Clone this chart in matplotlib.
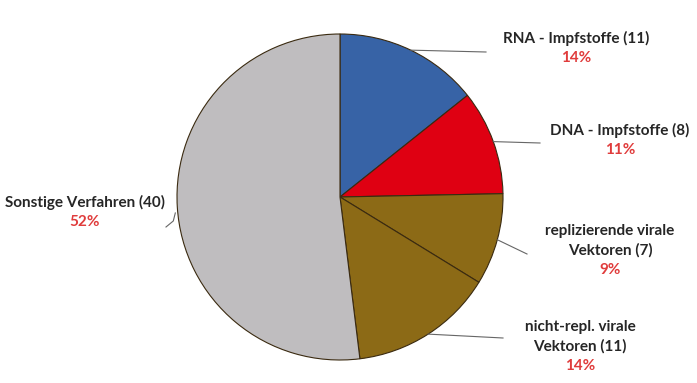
import numpy as np
import matplotlib
matplotlib.use("Agg")
import matplotlib.pyplot as plt

categories = ["RNA - Impfstoffe (11)", "DNA - Impfstoffe (8)",
              "replizierende virale\nVektoren (7)", "nicht-repl. virale\nVektoren (11)",
              "Sonstige Verfahren (40)"]
values = [11, 8, 7, 11, 40]
pct_labels = ["14%", "11%", "9%", "14%", "52%"]
colors = ["#3763a6", "#df0012", "#8c6a16", "#8c6a16", "#bfbdbf"]

W, H = 697, 383
fig = plt.figure(figsize=(W / 100, H / 100), dpi=100)
ax = fig.add_axes([0, 0, 1, 1])
ax.set_xlim(0, W)
ax.set_ylim(0, H)
ax.set_aspect("equal")
ax.axis("off")

cx, cy, r = 340, H - 197, 163
wedges, _ = ax.pie(values, colors=colors, startangle=90, counterclock=False,
                   center=(cx, cy), radius=r, frame=True,
                   wedgeprops=dict(edgecolor="#3a2a10", linewidth=0.8))
ax.set_xlim(0, W)
ax.set_ylim(0, H)
ax.axis("off")

# label layout: (text center x, first line y (px from top), line end x, line end y)
layout = [
    (576, 38, 486, 52),
    (620, 130, 540, 143),
    (610, 231, 527, 254),
    (580, 327, 503, 338),
    (85, 202, 166, 227),
]
font = ["Lato", "DejaVu Sans"]
lh = 19.5
for w, cat, pct, (tx, ty, lx, ly) in zip(wedges, categories, pct_labels, layout):
    mid = np.deg2rad((w.theta1 + w.theta2) / 2)
    px, py = cx + r * np.cos(mid), cy + r * np.sin(mid)
    if cat.startswith("Sonstige"):
        ax.plot([px - 2, px - 4, lx], [py - 6, py - 14, H - ly], color="#666666", lw=0.8)
    else:
        ax.plot([px, lx], [py, H - ly], color="#666666", lw=0.8)
    nlines = cat.count("\n") + 1
    for i, line in enumerate(cat.split("\n")):
        ax.text(tx, H - (ty + i * lh), line, ha="center", va="center",
                fontsize=11, fontweight="bold", color="#262626", family=font)
    ax.text(tx, H - (ty + nlines * lh), pct, ha="center", va="center",
            fontsize=11, fontweight="bold", color="#e03c3c", family=font)

fig.savefig("out.png", dpi=100)
